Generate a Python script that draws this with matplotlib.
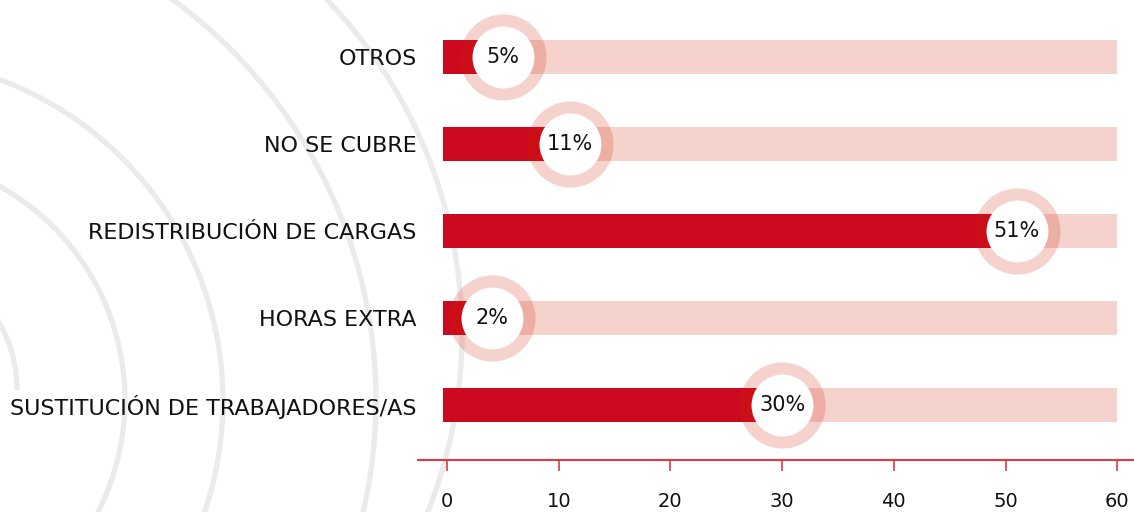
import numpy as np
import matplotlib.pyplot as plt
from matplotlib.patches import Arc

# ----------------------------
# data
# ----------------------------
categorias = [
    "SUSTITUCIÓN DE TRABAJADORES/AS",
    "HORAS EXTRA",
    "REDISTRIBUCIÓN DE CARGAS",
    "NO SE CUBRE",
    "OTROS",
]
valores = [30, 2, 51, 11, 5]
maximo = 60
ticks_x = [0, 10, 20, 30, 40, 50, 60]

# decorative background rings (pixel coords: cx, cy, r)
anillos = [(-120, 390, 137), (-120, 400, 245), (-120, 401, 343),
           (-120, 400, 496), (-19, 334, 481)]

ROJO = "#CC0A1F"
ROSA = "#D02200"
EJE = "#DB3B4B"

plt.rcParams["font.family"] = ["DejaVu Sans"]

W, H = 1134, 512
fig = plt.figure(figsize=(W / 100, H / 100), dpi=100)

# background arcs
bg = fig.add_axes([0, 0, 1, 1])
bg.set_xlim(0, W)
bg.set_ylim(H, 0)
bg.axis("off")
for i, (cx, cy, r) in enumerate(anillos):
    t1, t2 = (-180, 0) if i == 0 else (0, 360)
    bg.add_patch(Arc((cx, cy), 2 * r, 2 * r, theta1=t1, theta2=t2,
                     color="#EBEBEB", lw=3.8, capstyle="butt"))

# main axes
x0_px, ppu = 447, 11.17
ax_left, ax_bottom_px = 418, 460
ax = fig.add_axes([ax_left / W, (H - ax_bottom_px) / H,
                   (W - ax_left) / W, ax_bottom_px / H])
ax.patch.set_alpha(0)
ax.set_xlim((ax_left - x0_px) / ppu, (W - x0_px) / ppu)
ax.set_ylim(-(ax_bottom_px - 405) / 87, 4 + 57 / 87)

y = np.arange(len(categorias))
vals = np.array(valores)
# keep the badge from sticking out left of the bar start
pos_circ = np.maximum(vals, 4.0)

ax.barh(y, maximo + 0.4, left=-0.4, height=0.40, color=ROSA, alpha=0.2, zorder=1)
ax.barh(y, pos_circ + 0.4, left=-0.4, height=0.40, color=ROJO, zorder=2)
ax.scatter(pos_circ, y, s=62 ** 2, color=ROSA, alpha=0.2, linewidths=0, zorder=3)
ax.scatter(pos_circ, y, s=44.6 ** 2, color="white", linewidths=0, zorder=4)
for v, xc, yi in zip(vals, pos_circ, y):
    ax.text(xc, yi, f"{v}%", ha="center", va="center", fontsize=15,
            color="#111111", zorder=5)

for s in ["top", "right", "left"]:
    ax.spines[s].set_visible(False)
ax.spines["bottom"].set_color(EJE)
ax.spines["bottom"].set_linewidth(1.5)

ax.set_xticks(ticks_x)
ax.set_xticklabels([str(t) for t in ticks_x])
ax.tick_params(axis="x", colors=EJE, length=8, width=1.2, pad=15,
               labelsize=14, labelcolor="#111111")
ax.set_yticks(y)
ax.set_yticklabels(categorias)
ax.tick_params(axis="y", length=0, pad=1, labelsize=16, labelcolor="#111111")

fig.savefig("out.png", dpi=100)
